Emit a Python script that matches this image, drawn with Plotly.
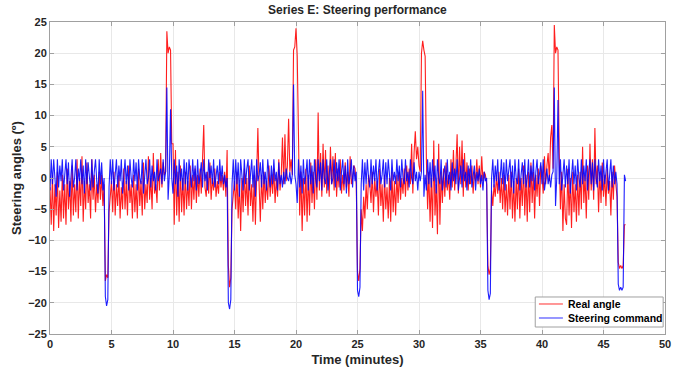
import plotly.graph_objects as go

# Sampling interval of the recorded signals (minutes)
sample_step = 0.1

# Real steering angle (degrees), one row per minute
real_angle = [
    -1.5, -7.5, 0.5, -8.5, -1, -6, 1, -8, -2, -7,
    0.5, -6.5, -1, -7.5, 1.5, -5, -0.5, -7, 2, -6,
    -1, -5.5, 3, -6.5, 0, -4.5, 3.5, -7, -0.5, -5,
    2.5, -4, -1, -6.5, 3, -3.5, 0.5, -5.5, -1, -4,
    1, -3.5, 0.5, -4.5, -1, -16.5, -15.5, -16, -5.5, -3,
    -0.5, -5.5, 1, -6, -1, -4.5, 0.5, -6.5, -1.5, -5,
    1.5, -5, -0.5, -6, 2, -4, -1, -6.5, 0.5, -5.5,
    -1, -6.5, 1.5, -4.5, -0.5, -6, 2.5, -5, -1, -4,
    3.5, -3.5, 0, -5, 4, -2.5, -1, -4, 3, -2,
    4, -1.5, 2.5, 0.5, 1, 23.5, 20, 21, 20.5, 5.5,
    5.5, -7.5, 4.5, -6, 1, -7, 2, -5.5, 0, -6,
    1, -5, -0.5, -4.5, 2, -5, 0.5, -3.5, 1.5, -4,
    0.5, -3, 1.5, -2.5, 2, 8.5, -1.5, -3, 1, -2.5,
    2.5, -3.5, 0, -2, 1.5, -3, -0.5, -2.5, 1, -1.5,
    0.5, -2, 1, -3, 4.5, -14, -17.5, -16, -5, -2.5,
    -0.5, -5, 1, -6.5, -1, -8.5, 0, -5.5, 1.5, -4.5,
    0, -6, 2, -4.5, -1, -7, 0.5, -7.5, -1, 8,
    -1, -7, 0.5, -5, 1, -4, -0.5, -3.5, 2, -3,
    0.5, -2.5, 1.5, -4, 0, -3, 3, -2, 0.5, 6.5,
    -1, 7, -0.5, 2, 9.5, 1, 3, 0.5, 20.5, 21,
    24, 19.5, 7, -6, 1, -8.5, 0, -6, 1.5, -7,
    0.5, -6, 2.5, -4, 1, -5, 3, -3.5, 10.5, -2,
    4, -3, 5.5, -1.5, 4.5, -2.5, 2, -3, 5, -1,
    3.5, -2, 4, -3, 1.5, -1.5, 3, -2.5, 0.5, -2,
    2.5, -1.5, 1, -3, 3.5, -1, 0, 2, 1.5, -1,
    -15, -16.5, -14.5, -5, -8.5, -3, -6.5, -1, -5, 0.5,
    -1, -4, 1, -5.5, 0, -3, -0.5, -6, 1.5, -4.5,
    -1, -7, 0.5, -5, -1.5, -6.5, 0, -7, 1, -5.5,
    -0.5, -6, 0.5, -4, 1, -3.5, 0, -2.5, 1.5, -3,
    2, -2, 1.5, -1, 5.5, -2.5, 4, 7.5, 3, 5,
    2, 1, 20, 22, 20.5, 19.5, 3, -5, 1, -7,
    0, -8, 6, -6, -1, -9, 5.5, -7.5, 1, -4,
    1.5, -3, 2.5, -2, 0.5, -3.5, 3, -1.5, 4.5, -2,
    2, 7, -2.5, 5, -1, 6, -3, 4, -1.5, 2.5,
    -2, 1.5, -1, 2, -2.5, 1, -0.5, 3, -1, 2,
    -1.5, 3.5, -0.5, 1, 0.5, -1, -14, -15.5, -14.5, -2,
    -4.5, -1, -3, 0.5, -2.5, 1, -4, 0, -5, 0.5,
    -5.5, -1, -6, 0.5, -5, 1, -6.5, -0.5, -7, 0,
    -5, 1.5, -6.5, 0, -4.5, 2, -6, 0.5, -7, 1,
    -5.5, 2.5, -4, 1, -6.5, 0.5, -3, 1.5, -4.5, 2,
    0.5, -2.5, 3.5, -1, 2, 4, -0.5, 6.5, 8.5, 1.5,
    24.5, 20, 21, 20.5, 4, -5, 1, -8.5, -1, -6.5,
    -7.5, 1.5, -6, 0, -8, 1, -5.5, -1, -7, 0.5,
    -6, 1, -5, 5, -4, 0.5, -6.5, 2, -3.5, 5.5,
    -2, 3, -3.5, 8, -1, 2, -5.5, 1, -4, 2.5,
    -3, 0.5, -4.5, 1.5, -2.5, -0.5, -6, 1, -3.5, 2,
    -1, -3, -13.5, -14.5, -14, -14.5, -14, -7.5, -7.5,
]

# Steering command (degrees), one row per minute
steering_command = [
    -2, 3, -1, 3, 0, -3, 3, -1.5, 2, -0.5,
    3, -2, 0.5, 3, -1, 2.5, -3, 1, 3, -1.5,
    0, 3, -2, 1.5, -0.5, 3, -1, 2, -2.5, 3,
    -1, 2.5, 0, -2, 3, -1.5, 1, 3, -0.5, -2.5,
    3, -1, 2.5, -2, 0, -19, -20.5, -19.5, -1.5, 3,
    -1, 3, -2, 0.5, 3, -1.5, 2, -0.5, 3, -2.5,
    1, 3, -1, 2, -2, 3, 0, -1.5, 3, -0.5,
    2.5, -2, 3, 0, -1, 3, -2.5, 1, 3, -1,
    0, 3, -1.5, 2, -0.5, 1, -2, 3, -0.5, 0.5,
    1.5, -1, 3, -0.5, 1, 14.5, -3.5, 0.5, 11, 0,
    -2.5, 3, -1, 2, -3, 3, -0.5, 1.5, -2, 3,
    -1, 2.5, -2, 3, 0, -1.5, 3, -0.5, 2, -2,
    3, -1, 0.5, 2.5, -1.5, 3, -0.5, 1, -2, 3,
    0, 2, -1, 3, -1.5, 0.5, 2, -1, 3, -0.5,
    2, -1, 0.5, -1.5, 0, -20, -21, -19.5, -1, 3,
    -2, 3, -1, 2.5, -3, 3, 0, -2, 3, -1,
    1.5, 3, -2, 0.5, 3, -1.5, 2, -3, 3, -0.5,
    0.5, 2.5, -1.5, 3, -1, 1, -2, 3, 0, -1.5,
    2, -1, 3, -0.5, 1, -2, 2.5, -1, 0.5, -1.5,
    1, -1, 1.5, 0, -0.5, 1, -1, 0.5, 15, 0.5,
    -1, -4, 3, -1.5, 2, -2.5, 3, -1, 0.5, 3,
    -2, 3, -1, 2, -2.5, 3, 0, -1.5, 3, -0.5,
    2.5, -2, 3, 0, -1, 3, -2, 1, 3, -1,
    0, 3, -1.5, 2.5, -0.5, 3, -2, 1, 3, -1,
    2, -2.5, 3, -1, 0.5, 3, -1.5, 2, -0.5, 1,
    -18, -19, -17.5, -1, 3, -2, 2.5, -1, 3, 0,
    -1.5, 3, -1, 2, -0.5, 3, -2, 1, 3, -1,
    0.5, 3, -1.5, 2.5, -1, 3, 0, -2, 3, -0.5,
    1, -1, 3, -0.5, 2, -1.5, 3, 0, -1, 3,
    -0.5, 1, -1.5, 3, 0, -1, 2.5, -0.5, 1, -2,
    1, -0.5, 1, 14, -3, 0.5, -2, 3, -1, 2.5,
    -1.5, 3, -0.5, 2, -2.5, 3, 0, -1, 3, -2,
    0.5, 2, -1.5, 3, -1, 1, -2, 2.5, -0.5, 1.5,
    -1, 3, -2, 0.5, 2, -1.5, 3, -0.5, 1, -2,
    2, -1, 3, -1.5, 0.5, 2, -2, 1, -0.5, 1.5,
    -1, 0.5, -2, 1, -0.5, 0, -18, -19.5, -18.5, 0,
    3, -1.5, 2, -0.5, 3, -2, 0, 3, -1, 2.5,
    -2, 3, -0.5, 1, 3, -1.5, 2, -2.5, 3, 0,
    -1, 3, -2, 0.5, 2.5, -1, 3, -1.5, 0, 3,
    -1.5, 2, -0.5, 3, -2, 1, 3, -1, 0.5, 2.5,
    -1, 3, -2, 0.5, 1.5, -1, 0.5, -1.5, 0.5, 1,
    14.5, -4.5, 0, 12.5, -1, 3, -2, 0.5, 3, -1.5,
    2, -1, 3, -2.5, 0.5, 3, -1, 2, -2, 3,
    0, -1.5, 3, -1, 2, -0.5, 3, -2, 1, 3,
    -1, 2.5, -2, 3, 0, -1.5, 3, -0.5, 2, -2,
    3, -1, 1, 3, -2, 0.5, 3, -1.5, 2, -1,
    1, -1, -17, -18, -17.5, -18, -17.5, 0.5, -0.5,
]

x_ticks = [0, 5, 10, 15, 20, 25, 30, 35, 40, 45, 50]
y_ticks = [-25, -20, -15, -10, -5, 0, 5, 10, 15, 20, 25]
series_names = ["Real angle", "Steering command"]

time_minutes = [round(i * sample_step, 1) for i in range(len(real_angle))]

FONT = "Liberation Sans"
TXT = "#262626"
RED = "rgb(255,0,0)"
BLUE = "rgb(0,0,255)"

fig = go.Figure()
fig.add_trace(go.Scatter(
    x=time_minutes, y=real_angle, mode="lines", name=series_names[0],
    line=dict(color=RED, width=1.1), opacity=0.88, showlegend=False,
))
fig.add_trace(go.Scatter(
    x=time_minutes, y=steering_command, mode="lines", name=series_names[1],
    line=dict(color=BLUE, width=1.1), opacity=0.88, showlegend=False,
))

axis_common = dict(
    showgrid=True, gridcolor="#e8e8e8", gridwidth=1,
    showline=True, linecolor="#a0a0a0", linewidth=1, mirror="ticks",
    ticks="inside", ticklen=4, tickcolor="#a0a0a0",
    zeroline=False, automargin=False,
    tickfont=dict(family=FONT, size=11, color=TXT, weight=700),
)

fig.update_xaxes(
    range=[0, 50], tickvals=x_ticks,
    title=dict(text="Time (minutes)", font=dict(family=FONT, size=13, color=TXT, weight=700), standoff=5),
    **axis_common,
)
fig.update_yaxes(
    range=[-25, 25], tickvals=y_ticks,
    title=dict(text="Steering angles (º)", font=dict(family=FONT, size=13, color=TXT, weight=700), standoff=3),
    **axis_common,
)

# Manual legend box (lower right, inside the axes)
lx0, lx1, ly0, ly1 = 0.789, 0.997, 0.0224, 0.1186
rows = [0.0962, 0.0513]
shapes = [dict(type="rect", xref="paper", yref="paper", x0=lx0, x1=lx1, y0=ly0, y1=ly1,
               line=dict(color="#a0a0a0", width=1), fillcolor="white", layer="above")]
annotations = [dict(text="Series E: Steering performance", xref="paper", yref="paper",
                    x=0.5, y=1, yshift=3, xanchor="center", yanchor="bottom", showarrow=False,
                    font=dict(family=FONT, size=12, color=TXT, weight=700))]
for name, col, ry in zip(series_names, ["rgba(255,0,0,0.55)", "rgba(0,0,255,0.55)"], rows):
    shapes.append(dict(type="line", xref="paper", yref="paper", x0=0.795, x1=0.834, y0=ry, y1=ry,
                       line=dict(color=col, width=1.5), layer="above"))
    annotations.append(dict(text=name, xref="paper", yref="paper", x=0.839, y=ry,
                            xanchor="left", yanchor="middle", showarrow=False,
                            font=dict(family=FONT, size=10.5, color="black", weight=700)))

fig.update_layout(
    width=686, height=372,
    margin=dict(l=50, r=21, t=22, b=38),
    paper_bgcolor="white", plot_bgcolor="white",
    shapes=shapes, annotations=annotations,
    showlegend=False,
)

# Remove the default 8 px page margin so the figure fills the window exactly.
fig.write_html("out.html", config={"displayModeBar": False},
               post_script="document.body.style.margin='0';")
